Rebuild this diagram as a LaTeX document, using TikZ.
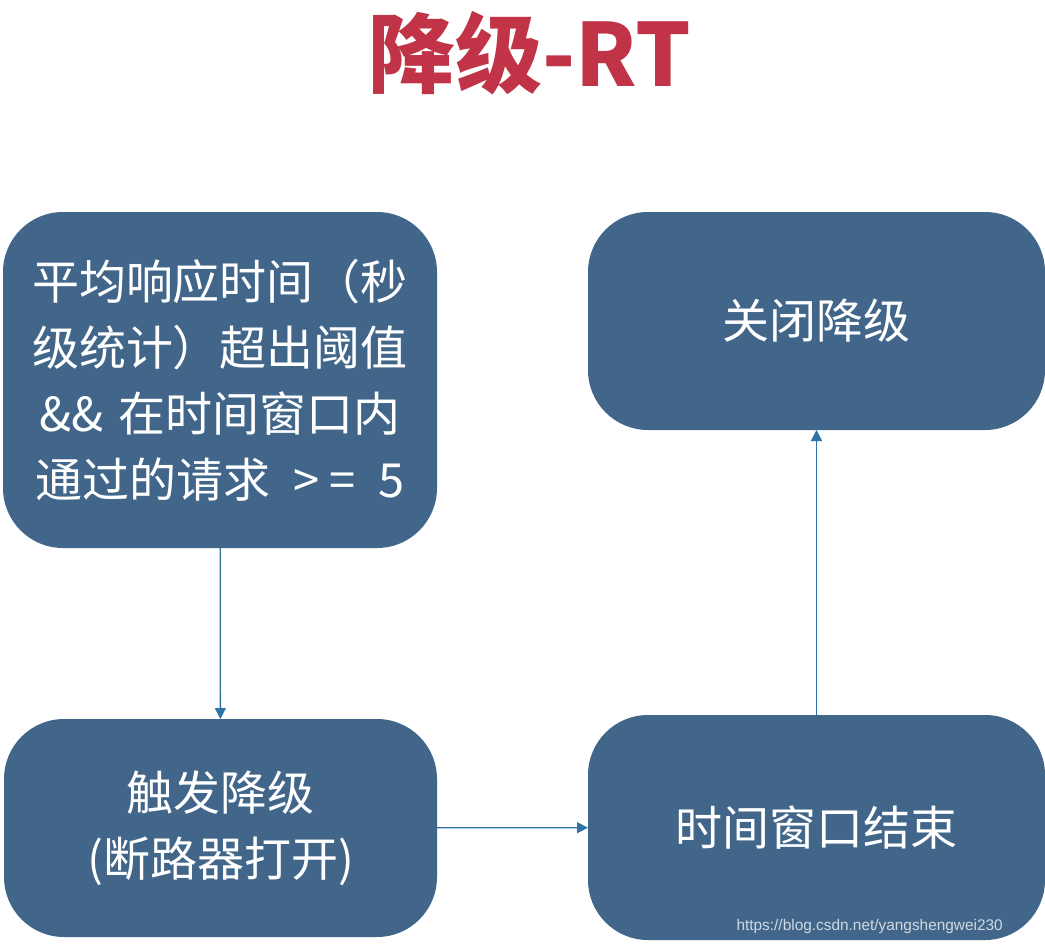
\documentclass[tikz,border=0pt]{standalone}
\usepackage{fontspec}
\setmainfont{Noto Sans CJK SC}
\newfontfamily\wmfont{Liberation Sans}
\usetikzlibrary{arrows.meta}
\definecolor{boxblue}{RGB}{65,102,138}
\definecolor{titlered}{RGB}{193,51,70}
\definecolor{arrowblue}{RGB}{46,117,166}
\tikzset{
  flowbox/.style={fill=boxblue, draw=none, rounded corners=60pt, text=white,
    align=center, inner sep=0pt, outer sep=0pt,
    font=\fontsize{47}{66}\selectfont},
  flowarrow/.style={draw=arrowblue, line width=1.3pt,
    -{Triangle[length=11pt,width=11pt]}}
}
\begin{document}
\begin{tikzpicture}[x=1pt,y=-1pt]
\useasboundingbox[fill=white] (0,0) rectangle (1045,946);
\node[text=titlered, font=\fontsize{87}{90}\selectfont\bfseries] (title) at (530,53) {降级-RT};
\node[flowbox, minimum width=434pt, minimum height=336pt] (A) at (220,380)
  {平均响应时间（秒\\级统计）超出阈值\\\&\&\hspace{4pt} 在时间窗口内\\通过的请求\hspace{12pt} >\kern10pt=\hspace{12pt} 5};
\node[flowbox, minimum width=457pt, minimum height=218pt] (B) at (816.5,321) {关闭降级};
\node[flowbox, minimum width=433pt, minimum height=218pt] (C) at (220.5,828) {触发降级\\(断路器打开)};
\node[flowbox, minimum width=457pt, minimum height=225pt] (D) at (816.5,827.5) {时间窗口结束};
\draw[flowarrow] (A) -- (C);
\draw[flowarrow] (C) -- (D);
\draw[flowarrow] (D) -- (B);
\node[text=white, opacity=0.75, font=\wmfont\fontsize{15.4}{18}\selectfont, anchor=west] (wm) at (733,927) {https://blog.csdn.net/yangshengwei230};
\end{tikzpicture}
\end{document}
